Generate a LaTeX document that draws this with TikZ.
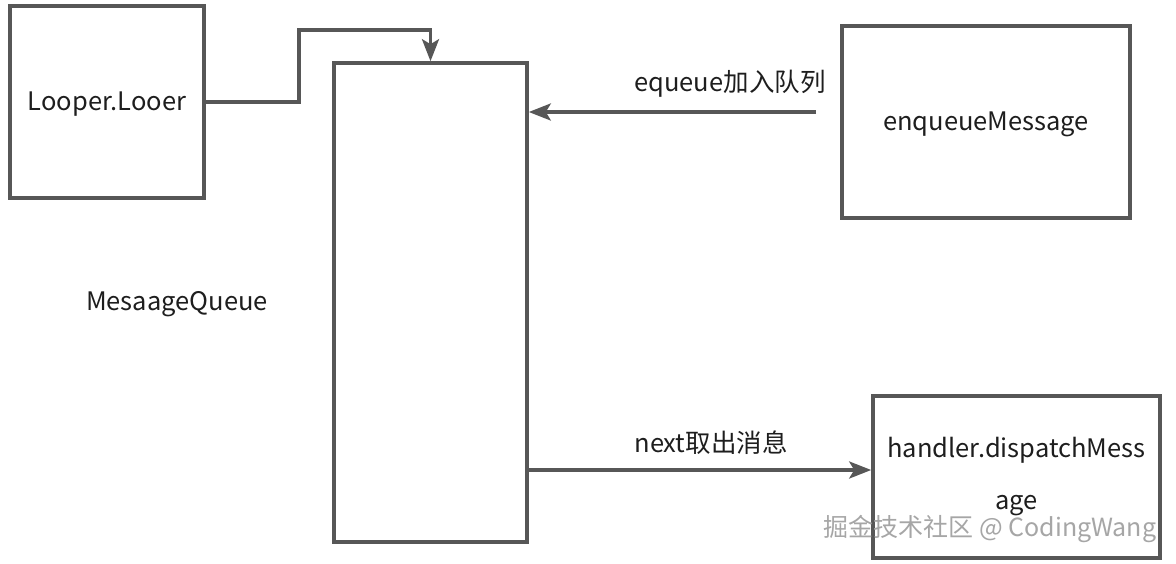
\documentclass[tikz,border=0pt]{standalone}
\usepackage{fontspec}
\setmainfont{Noto Sans CJK SC}
\usetikzlibrary{arrows.meta}
\definecolor{linegray}{HTML}{575757}
\definecolor{txt}{HTML}{1E1E1E}
\tikzset{
  box/.style={draw=linegray, line width=3.6pt, fill=white, text=txt, font=\fontsize{25.5}{30}\selectfont, inner sep=0pt},
  conn/.style={draw=linegray, line width=3.4pt, -{Stealth[length=22pt,width=17pt,inset=5pt]}},
  lbl/.style={text=txt, font=\fontsize{25.5}{30}\selectfont, inner sep=0pt},
  wmark/.style={text=gray!70, font=\fontsize{25}{30}\selectfont, inner sep=0pt}
}
\begin{document}
\begin{tikzpicture}[x=1pt,y=-1pt]
\useasboundingbox[fill=white] (0,0) rectangle (1176,563);
\node[box, minimum width=194pt, minimum height=192pt, text depth=2pt] (looper) at (107,102) {Looper.Looer};
\node[box, minimum width=193pt, minimum height=479pt] (queue) at (430.5,302.5) {};
\node[box, minimum width=288pt, minimum height=192pt, text depth=2pt] (enq) at (986,122) {enqueueMessage};
\node[box, minimum width=287pt, minimum height=162pt, align=center, font=\fontsize{25.5}{52}\selectfont] (handler) at (1016.5,477) {handler.dispatchMess\\age};
\node[lbl] (mq) at (177,304) {MesaageQueue};
\node[lbl] (l1) at (730,84) {equeue加入队列};
\node[lbl] (l2) at (711,443) {next取出消息};
\coordinate (k1) at (299,30);
\coordinate (e1) at (816,112);
\coordinate (n1) at (700,470);
\draw[conn] (looper.east) -| (k1) -| (queue.north);
\draw[conn] (e1) -- (queue.east |- e1);
\draw[conn] (queue.east |- n1) -- (handler.west |- n1);
\node[wmark] (wm) at (990,529) {掘金技术社区 @ CodingWang};
\end{tikzpicture}
\end{document}
